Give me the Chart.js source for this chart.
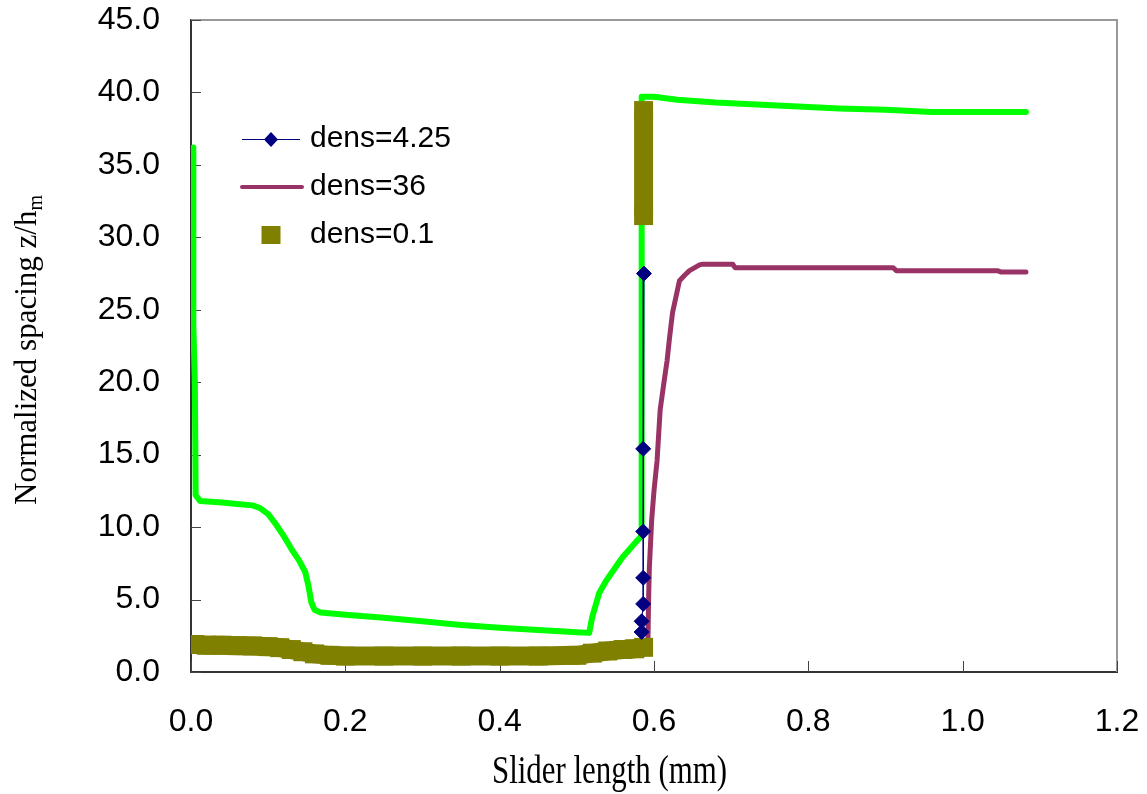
<!DOCTYPE html>
<html>
<head>
<meta charset="utf-8">
<script src="https://cdn.jsdelivr.net/npm/chart.js@4/dist/chart.umd.min.js"></script>
<style>
  body { margin: 0; background: #fff; }
  #wrap { width: 1147px; height: 794px; }
</style>
</head>
<body>
<div id="wrap"><canvas id="chart" width="1147" height="794"></canvas></div>
<script>
// values
const xTicks = [0, 0.2, 0.4, 0.6, 0.8, 1.0, 1.2];
const yTicks = [0, 5, 10, 15, 20, 25, 30, 35, 40, 45];

// dens=4.25 (diamonds)
const blueX = [0.587, 0.586, 0.586, 0.586, 0.586, 0.584, 0.584];
const blueY = [27.5, 15.4, 9.7, 6.5, 4.7, 3.5, 2.76];

// dens=0.1 (olive squares)
const oliveX = [0.005, 0.02, 0.04, 0.06, 0.08, 0.1, 0.115, 0.13, 0.145, 0.16, 0.18, 0.2, 0.25, 0.3, 0.35, 0.4, 0.45, 0.5, 0.52, 0.54, 0.56, 0.575, 0.5865, 0.5865, 0.5865, 0.5865];
const oliveY = [1.9, 1.85, 1.85, 1.82, 1.8, 1.75, 1.68, 1.55, 1.4, 1.25, 1.15, 1.1, 1.1, 1.1, 1.1, 1.1, 1.1, 1.15, 1.3, 1.45, 1.55, 1.6, 1.7, null, 31.5, 38.75];

// dens=36 (maroon line)
const maroonX = [0.592, 0.593, 0.594, 0.597, 0.6, 0.604, 0.608, 0.614, 0.617, 0.62, 0.624, 0.633, 0.64, 0.646, 0.659, 0.663, 0.702, 0.705, 0.91, 0.914, 1.045, 1.05, 1.082];
const maroonY = [1.5, 5.0, 7.2, 10.5, 12.5, 14.6, 18.1, 20.4, 21.5, 23.0, 24.8, 27.0, 27.4, 27.7, 28.1, 28.15, 28.15, 27.9, 27.9, 27.7, 27.7, 27.6, 27.6];

// unlabelled green line
const greenX = [0.003, 0.003, 0.005, 0.006, 0.012, 0.04, 0.06, 0.08, 0.09, 0.1, 0.11, 0.12, 0.13, 0.14, 0.148, 0.152, 0.156, 0.16, 0.168, 0.2, 0.25, 0.3, 0.35, 0.4, 0.45, 0.5, 0.516, 0.52, 0.529, 0.538, 0.559, 0.577, 0.584, 0.584, 0.6, 0.63, 0.68, 0.72, 0.78, 0.84, 0.9, 0.96, 1.082];
const greenY = [36.2, 24.0, 20.0, 12.2, 11.8, 11.7, 11.6, 11.5, 11.3, 10.9, 10.2, 9.4, 8.5, 7.7, 6.9, 6.0, 4.8, 4.3, 4.1, 3.95, 3.75, 3.5, 3.25, 3.05, 2.9, 2.75, 2.7, 3.8, 5.45, 6.3, 7.9, 9.0, 9.4, 39.7, 39.7, 39.5, 39.3, 39.2, 39.05, 38.9, 38.8, 38.65, 38.65];

const NAVY = '#000080', MAROON = '#993366', OLIVE = '#808000', GREEN = '#00ff00';
const SANS = "'Liberation Sans', Arial, sans-serif";
const SERIF = "'Liberation Serif', 'Times New Roman', serif";

function pts(xs, ys) {
  return xs.map((x, i) => ({ x: x, y: ys[i] }));
}

function noPad(s) {
  s.paddingTop = 0; s.paddingBottom = 0; s.paddingLeft = 0; s.paddingRight = 0;
}

// inside tick marks + gray top/right frame
const framePlugin = {
  id: 'frame',
  beforeDatasetsDraw(chart) {
    const ctx = chart.ctx, a = chart.chartArea;
    const xs = chart.scales.x, ys = chart.scales.y;
    ctx.save();
    ctx.strokeStyle = '#999';
    ctx.lineWidth = 2;
    ctx.beginPath();
    ctx.moveTo(a.left, a.top);
    ctx.lineTo(a.right, a.top);
    ctx.lineTo(a.right, a.bottom);
    ctx.stroke();
    ctx.strokeStyle = '#444';
    ctx.lineWidth = 1;
    ctx.beginPath();
    yTicks.forEach(v => {
      const p = Math.round(ys.getPixelForValue(v)) + 0.5;
      ctx.moveTo(a.left, p);
      ctx.lineTo(a.left + 10, p);
    });
    xTicks.forEach(v => {
      const p = Math.round(xs.getPixelForValue(v)) + 0.5;
      ctx.moveTo(p, a.bottom);
      ctx.lineTo(p, a.bottom - 11);
    });
    ctx.stroke();
    ctx.restore();
  }
};

// legend and axis titles
const textPlugin = {
  id: 'texts',
  afterDraw(chart) {
    const ctx = chart.ctx;
    ctx.save();
    ctx.fillStyle = '#000';
    ctx.font = '30px ' + SANS;
    ctx.textBaseline = 'middle';
    ctx.textAlign = 'left';

    // dens=4.25
    ctx.strokeStyle = NAVY;
    ctx.lineWidth = 1;
    ctx.beginPath();
    ctx.moveTo(242, 139.5);
    ctx.lineTo(300, 139.5);
    ctx.stroke();
    ctx.fillStyle = NAVY;
    ctx.beginPath();
    ctx.moveTo(271, 132); ctx.lineTo(278, 139.5); ctx.lineTo(271, 147); ctx.lineTo(264, 139.5);
    ctx.closePath();
    ctx.fill();
    ctx.fillStyle = '#000';
    ctx.fillText('dens=4.25', 310, 139);

    // dens=36
    ctx.strokeStyle = MAROON;
    ctx.lineWidth = 4;
    ctx.lineCap = 'round';
    ctx.beginPath();
    ctx.moveTo(242, 187);
    ctx.lineTo(302, 187);
    ctx.stroke();
    ctx.fillText('dens=36', 310, 187);

    // dens=0.1
    ctx.fillStyle = OLIVE;
    ctx.fillRect(261.5, 226, 19, 18);
    ctx.fillStyle = '#000';
    ctx.fillText('dens=0.1', 310, 235);

    // x title (narrow serif)
    ctx.save();
    ctx.font = '40px ' + SERIF;
    ctx.textBaseline = 'alphabetic';
    ctx.textAlign = 'center';
    const xt = 'Slider length (mm)';
    const sx = 235 / ctx.measureText(xt).width;
    ctx.translate(609.5, 783);
    ctx.scale(sx, 1);
    ctx.fillText(xt, 0, 0);
    ctx.restore();

    // y title with subscript
    ctx.save();
    ctx.translate(36, 505);
    ctx.rotate(-Math.PI / 2);
    ctx.textBaseline = 'alphabetic';
    ctx.textAlign = 'left';
    ctx.font = '31px ' + SERIF;
    const yt = 'Normalized spacing z/h';
    ctx.fillText(yt, 0, 0);
    const w = ctx.measureText(yt).width;
    ctx.font = '20px ' + SERIF;
    ctx.fillText('m', w, 6);
    ctx.restore();

    ctx.restore();
  }
};

new Chart(document.getElementById('chart'), {
  type: 'scatter',
  data: {
    datasets: [
      {
        label: 'dens=4.25',
        data: pts(blueX, blueY),
        showLine: true,
        borderColor: NAVY,
        borderWidth: 1,
        backgroundColor: NAVY,
        pointStyle: 'rectRot',
        pointRadius: 7.5,
        pointBorderWidth: 1,
        pointBorderColor: NAVY
      },
      {
        label: 'dens=0.1',
        data: pts(oliveX, oliveY),
        showLine: true,
        spanGaps: false,
        borderColor: OLIVE,
        borderWidth: 19,
        borderCapStyle: 'butt',
        borderJoinStyle: 'miter',
        backgroundColor: OLIVE,
        pointStyle: 'rect',
        pointRadius: 13.4,
        pointBorderWidth: 0
      },
      {
        label: 'dens=36',
        data: pts(maroonX, maroonY),
        showLine: true,
        borderColor: MAROON,
        borderWidth: 5,
        borderCapStyle: 'round',
        borderJoinStyle: 'round',
        pointRadius: 0
      },
      {
        label: 'green',
        data: pts(greenX, greenY),
        showLine: true,
        borderColor: GREEN,
        borderWidth: 6,
        borderCapStyle: 'round',
        borderJoinStyle: 'round',
        pointRadius: 0
      }
    ]
  },
  options: {
    responsive: false,
    animation: false,
    layout: { padding: { top: 20, right: 30, left: 0, bottom: 0 } },
    plugins: { legend: { display: false }, tooltip: { enabled: false } },
    elements: { line: { tension: 0 } },
    scales: {
      x: {
        type: 'linear',
        min: 0, max: 1.2,
        afterFit: s => { s.height = 122; noPad(s); },
        afterBuildTicks: s => { s.ticks = xTicks.map(v => ({ value: v })); },
        grid: { display: false, drawTicks: false },
        border: { display: true, color: '#333', width: 2 },
        ticks: {
          padding: 31,
          color: '#000',
          font: { family: SANS, size: 32 },
          callback: v => v.toFixed(1)
        }
      },
      y: {
        type: 'linear',
        min: 0, max: 45,
        afterFit: s => { s.width = 191; noPad(s); },
        afterBuildTicks: s => { s.ticks = yTicks.map(v => ({ value: v })); },
        grid: { display: false, drawTicks: false },
        border: { display: true, color: '#333', width: 2 },
        ticks: {
          padding: 31,
          color: '#000',
          font: { family: SANS, size: 32 },
          callback: v => v.toFixed(1)
        }
      }
    }
  },
  plugins: [framePlugin, textPlugin]
});
</script>
</body>
</html>
